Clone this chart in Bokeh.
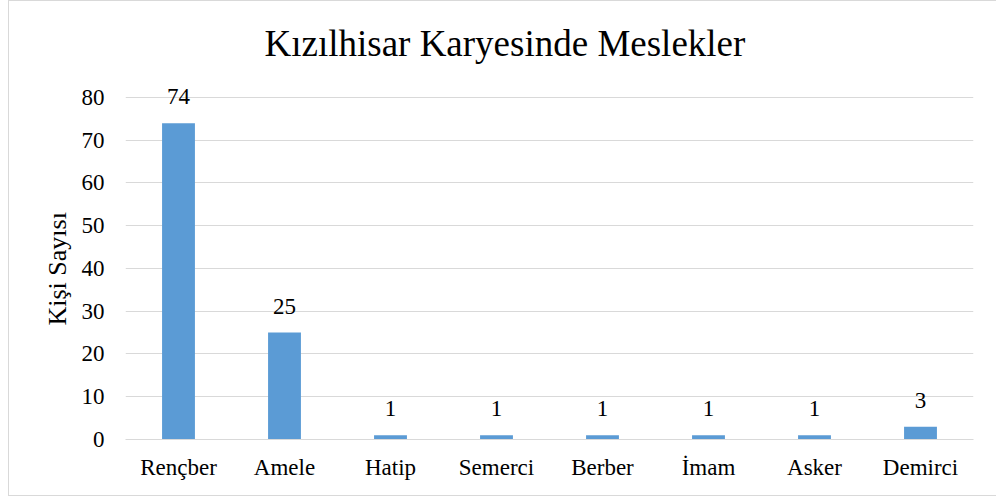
from bokeh.plotting import figure
from bokeh.models import ColumnDataSource, FactorRange, Range1d, FixedTicker, LabelSet, Title
from bokeh.embed import file_html
from bokeh.resources import INLINE

categories = ["Rençber", "Amele", "Hatip", "Semerci", "Berber", "İmam", "Asker", "Demirci"]
values = [74, 25, 1, 1, 1, 1, 1, 3]
y_ticks = [0, 10, 20, 30, 40, 50, 60, 70, 80]

FONT = "Liberation Serif"
BAR = "#5B9BD5"
GRID = "#d9d9d9"

src = ColumnDataSource(dict(cat=categories, val=values, lab=[str(v) for v in values]))

p = figure(width=988, height=496, x_range=FactorRange(*categories, range_padding=0),
           y_range=Range1d(0, 84.91), output_backend="svg", toolbar_location=None,
           min_border_left=116, min_border_right=24, min_border_top=75, min_border_bottom=58)
p.styles = {"border-left": "1px solid #d9d9d9", "border-top": "1px solid #d9d9d9",
            "border-bottom": "1px solid #d9d9d9", "margin-left": "8px"}

p.vbar(x="cat", top="val", width=0.31, source=src, fill_color=BAR, line_color=None)

labels = LabelSet(x="cat", y="val", text="lab", source=src, text_align="center",
                  text_baseline="bottom", y_offset=19, text_font=FONT,
                  text_font_size="23px", text_color="#000000")
p.add_layout(labels)

t = Title(text="Kızılhisar Karyesinde Meslekler", align="left", text_font=FONT,
          text_font_size="37px", text_font_style="normal", text_color="#000000",
          offset=139, standoff=25)
p.add_layout(t, "above")
p.title.visible = False

p.outline_line_color = None
p.background_fill_color = "white"
p.border_fill_color = "white"

p.xgrid.grid_line_color = None
p.ygrid.grid_line_color = GRID
p.ygrid.grid_line_width = 1

p.yaxis.ticker = FixedTicker(ticks=y_ticks)
p.yaxis.axis_line_color = None
p.yaxis.major_tick_line_color = None
p.yaxis.minor_tick_line_color = None
p.yaxis.major_label_text_font = FONT
p.yaxis.major_label_text_font_size = "23px"
p.yaxis.major_label_text_color = "#000000"
p.yaxis.major_label_standoff = 15

ylab = Title(text="Kişi Sayısı", align="left", text_font=FONT, text_font_size="26px",
             text_font_style="normal", text_color="#000000", offset=114, standoff=13)
p.add_layout(ylab, "left")

p.xaxis.axis_line_color = GRID
p.xaxis.major_tick_line_color = None
p.xaxis.minor_tick_line_color = None
p.xaxis.major_label_text_font = FONT
p.xaxis.major_label_text_font_size = "23px"
p.xaxis.major_label_text_color = "#000000"
p.xaxis.major_label_standoff = 9

open("out.html", "w").write(file_html(p, INLINE))
